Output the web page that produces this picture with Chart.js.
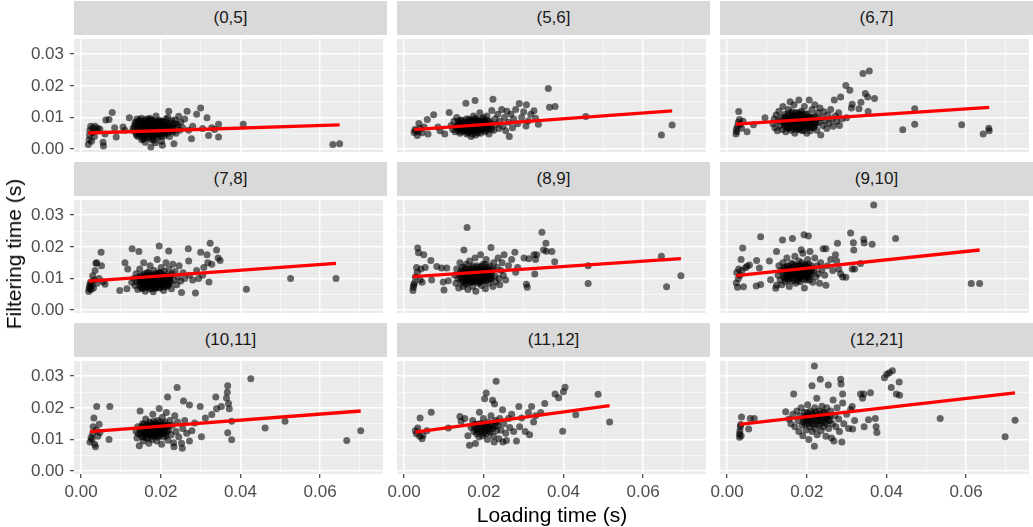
<!DOCTYPE html>
<html>
<head>
<meta charset="utf-8">
<script src="https://cdn.jsdelivr.net/npm/chart.js@4/dist/chart.umd.min.js"></script>
<style>
  body { margin: 0; background: #fff; font-family: 'Liberation Sans', Arial, sans-serif; }
  #wrap { position: relative; width: 1033px; height: 527px; overflow: hidden; }
  #wrap canvas { position: absolute; }
  .strip { position: absolute; background: #d9d9d9; color: #1a1a1a; font-size: 17px;
           display: flex; align-items: center; justify-content: center; }
  .title { position: absolute; font-size: 21px; color: #000; white-space: nowrap;
           transform: translate(-50%, -50%); }
</style>
</head>
<body>
<div id="wrap"></div>
<script>
// facet labels, in reading order
var panelLabels = ['(0,5]', '(5,6]', '(6,7]', '(7,8]', '(8,9]', '(9,10]', '(10,11]', '(11,12]', '(12,21]'];

// axis ticks (majors get labels, minors are grid only)
var xTicks = [0, 0.01, 0.02, 0.03, 0.04, 0.05, 0.06, 0.07];
var yTicks = [0, 0.005, 0.01, 0.015, 0.02, 0.025, 0.03];

// linear fit end points for each panel
var fitStartX = [0.0018, 0.0025, 0.0022, 0.0019, 0.0022, 0.0023, 0.0022, 0.0028, 0.0031];
var fitStartY = [0.0051, 0.0062, 0.0079, 0.0092, 0.0106, 0.0109, 0.0125, 0.0123, 0.0148];
var fitEndX   = [0.0649, 0.0673, 0.0658, 0.0640, 0.0695, 0.0634, 0.0702, 0.0516, 0.0723];
var fitEndY   = [0.0077, 0.0121, 0.0132, 0.0148, 0.0163, 0.0190, 0.0190, 0.0207, 0.0247];

// [loading time, filtering time] per panel
var pts0_5 = [[0.0018,0.0015],[0.0020,0.0030],[0.0021,0.0045],[0.0022,0.0060],[0.0024,0.0072],[0.0026,0.0025],[0.0028,0.0052],[0.0030,0.0068],[0.0033,0.0040],[0.0035,0.0072],[0.0038,0.0058],[0.0042,0.0066],[0.0047,0.0063],[0.0055,0.0022],[0.0056,0.0010],[0.0060,0.0048],[0.0062,0.0092],[0.0070,0.0094],[0.0078,0.0116],[0.0084,0.0068],[0.0088,0.0038],[0.0105,0.0070],[0.0121,0.0099],[0.0110,0.0060],
  [0.0130,0.0065],[0.0135,0.0080],[0.0138,0.0050],[0.0140,0.0095],[0.0143,0.0040],[0.0145,0.0070],[0.0148,0.0058],[0.0150,0.0085],[0.0152,0.0030],[0.0155,0.0065],[0.0157,0.0075],[0.0158,0.0048],[0.0160,0.0090],[0.0162,0.0060],[0.0164,0.0070],[0.0165,0.0040],[0.0167,0.0080],[0.0168,0.0055],[0.0170,0.0065],[0.0172,0.0098],[0.0173,0.0050],[0.0175,0.0007],[0.0175,0.0072],[0.0177,0.0030],[0.0178,0.0060],[0.0180,0.0085],[0.0182,0.0045],[0.0183,0.0068],[0.0185,0.0075],[0.0187,0.0055],[0.0188,0.0105],[0.0190,0.0062],[0.0192,0.0038],[0.0193,0.0080],[0.0195,0.0070],[0.0197,0.0050],[0.0198,0.0090],[0.0200,0.0060],[0.0202,0.0025],[0.0204,0.0012],[0.0205,0.0075],[0.0207,0.0048],[0.0210,0.0065],[0.0212,0.0085],[0.0215,0.0055],[0.0218,0.0100],[0.0220,0.0120],[0.0222,0.0040],[0.0225,0.0070],[0.0228,0.0090],[0.0230,0.0060],[0.0233,0.0017],[0.0235,0.0080],[0.0238,0.0050],[0.0240,0.0070],[0.0245,0.0104],[0.0248,0.0060],[0.0250,0.0085],[0.0255,0.0068],[0.0260,0.0095],[0.0266,0.0120],[0.0270,0.0060],[0.0277,0.0033],[0.0280,0.0072],[0.0290,0.0110],[0.0300,0.0130],[0.0305,0.0065],[0.0316,0.0099],[0.0320,0.0043],[0.0328,0.0068],[0.0335,0.0062],[0.0345,0.0079],[0.0345,0.0038],[0.0407,0.0079],[0.0632,0.0015],[0.0649,0.0017],
  [0.0153,0.0052],[0.0158,0.0068],[0.0163,0.0083],[0.0166,0.0047],[0.0171,0.0058],[0.0174,0.0088],[0.0179,0.0041],[0.0181,0.0066],[0.0186,0.0079],[0.0189,0.0049],[0.0194,0.0057],[0.0196,0.0085],[0.0201,0.0068],[0.0206,0.0058],[0.0209,0.0078],[0.0156,0.0036],[0.0169,0.0072],[0.0184,0.0061],[0.0191,0.0072],[0.0176,0.0052],
  [0.0141,0.0062],[0.0144,0.0088],[0.0147,0.0045],[0.0149,0.0073],[0.0151,0.0098],[0.0154,0.0058],[0.0156,0.0080],[0.0159,0.0042],[0.0161,0.0069],[0.0163,0.0095],[0.0165,0.0055],[0.0168,0.0084],[0.0170,0.0035],[0.0172,0.0068],[0.0174,0.0076],[0.0177,0.0092],[0.0179,0.0056],[0.0181,0.0074],[0.0183,0.0028],[0.0185,0.0064],[0.0188,0.0082],[0.0190,0.0046],[0.0192,0.0069],[0.0194,0.0090],[0.0197,0.0062],[0.0199,0.0077],[0.0201,0.0040],[0.0203,0.0088],[0.0205,0.0064],[0.0208,0.0052],[0.0211,0.0072],[0.0213,0.0095],[0.0216,0.0062],[0.0219,0.0080],[0.0222,0.0058],[0.0226,0.0082],[0.0229,0.0070],[0.0232,0.0055],[0.0236,0.0092],[0.0242,0.0078],
  [0.0132,0.0058],[0.0134,0.0072],[0.0137,0.0086],[0.0139,0.0044],[0.0142,0.0078],[0.0146,0.0052],[0.0148,0.0092],[0.0151,0.0064],[0.0154,0.0078],[0.0157,0.0032],[0.0159,0.0056],[0.0162,0.0074],[0.0164,0.0088],[0.0167,0.0062],[0.0169,0.0046],[0.0172,0.0080],[0.0175,0.0064],[0.0178,0.0038],[0.0180,0.0070],[0.0183,0.0090],[0.0186,0.0054],[0.0189,0.0066],[0.0191,0.0084],[0.0194,0.0044],[0.0197,0.0074],[0.0200,0.0052],[0.0203,0.0064],[0.0206,0.0086],[0.0209,0.0042],[0.0212,0.0068],[0.0215,0.0078],[0.0218,0.0050],[0.0221,0.0066],[0.0161,0.0022],[0.0187,0.0020],[0.0171,0.0094]];

var pts5_6 = [[0.0025,0.0053],[0.0027,0.0062],[0.0030,0.0058],[0.0033,0.0043],[0.0035,0.0055],[0.0037,0.0081],[0.0040,0.0065],[0.0045,0.0052],[0.0050,0.0070],[0.0058,0.0094],[0.0060,0.0048],[0.0074,0.0109],[0.0085,0.0070],[0.0090,0.0058],[0.0102,0.0048],[0.0113,0.0116],
  [0.0118,0.0075],[0.0122,0.0062],[0.0125,0.0088],[0.0128,0.0055],[0.0130,0.0070],[0.0132,0.0100],[0.0135,0.0060],[0.0138,0.0080],[0.0140,0.0050],[0.0142,0.0092],[0.0145,0.0068],[0.0147,0.0075],[0.0150,0.0058],[0.0152,0.0085],[0.0155,0.0145],[0.0155,0.0065],[0.0157,0.0048],[0.0160,0.0078],[0.0162,0.0095],[0.0164,0.0060],[0.0166,0.0070],[0.0168,0.0040],[0.0170,0.0085],[0.0172,0.0065],[0.0174,0.0105],[0.0176,0.0055],[0.0178,0.0154],[0.0178,0.0075],[0.0180,0.0045],[0.0182,0.0090],[0.0184,0.0068],[0.0186,0.0060],[0.0188,0.0080],[0.0190,0.0115],[0.0192,0.0050],[0.0194,0.0072],[0.0196,0.0095],[0.0198,0.0062],[0.0200,0.0085],[0.0203,0.0055],[0.0206,0.0075],[0.0208,0.0105],[0.0210,0.0065],[0.0213,0.0048],[0.0215,0.0088],[0.0218,0.0070],[0.0220,0.0122],[0.0223,0.0158],[0.0225,0.0060],[0.0228,0.0095],[0.0230,0.0078],[0.0235,0.0110],[0.0238,0.0065],[0.0240,0.0088],[0.0245,0.0125],[0.0248,0.0072],[0.0252,0.0100],[0.0255,0.0058],[0.0258,0.0120],[0.0262,0.0085],[0.0264,0.0040],[0.0268,0.0110],[0.0272,0.0068],[0.0275,0.0095],[0.0280,0.0125],[0.0285,0.0080],[0.0289,0.0144],[0.0295,0.0100],[0.0300,0.0118],[0.0306,0.0073],[0.0307,0.0140],[0.0312,0.0090],[0.0318,0.0110],[0.0326,0.0121],[0.0330,0.0098],[0.0337,0.0079],[0.0362,0.0192],[0.0365,0.0132],[0.0379,0.0135],[0.0456,0.0103],[0.0646,0.0045],[0.0673,0.0076],
  [0.0133,0.0072],[0.0136,0.0088],[0.0139,0.0064],[0.0141,0.0078],[0.0144,0.0055],[0.0146,0.0090],[0.0149,0.0068],[0.0151,0.0080],[0.0153,0.0060],[0.0156,0.0095],[0.0158,0.0072],[0.0161,0.0056],[0.0163,0.0085],[0.0165,0.0066],[0.0167,0.0078],[0.0169,0.0092],[0.0171,0.0058],[0.0173,0.0072],[0.0175,0.0084],[0.0177,0.0064],[0.0179,0.0098],[0.0181,0.0070],[0.0183,0.0080],[0.0185,0.0052],[0.0187,0.0088],[0.0189,0.0066],[0.0191,0.0076],[0.0193,0.0060],[0.0195,0.0086],[0.0197,0.0070],[0.0199,0.0100],[0.0201,0.0066],[0.0204,0.0080],[0.0207,0.0060],[0.0209,0.0090],[0.0212,0.0072],[0.0216,0.0082],[0.0219,0.0062],
  [0.0134,0.0066],[0.0137,0.0078],[0.0140,0.0070],[0.0143,0.0084],[0.0146,0.0062],[0.0149,0.0076],[0.0152,0.0070],[0.0155,0.0082],[0.0158,0.0062],[0.0161,0.0074],[0.0164,0.0090],[0.0167,0.0068],[0.0170,0.0076],[0.0173,0.0058],[0.0176,0.0088],[0.0179,0.0072],[0.0182,0.0064],[0.0185,0.0078],[0.0188,0.0070],[0.0191,0.0086],[0.0194,0.0064],[0.0197,0.0078],[0.0200,0.0072],[0.0203,0.0090],[0.0206,0.0068],[0.0209,0.0078],[0.0172,0.0048],[0.0160,0.0052],[0.0184,0.0094]];

var pts6_7 = [[0.0022,0.0048],[0.0023,0.0063],[0.0024,0.0055],[0.0026,0.0072],[0.0028,0.0085],[0.0029,0.0119],[0.0031,0.0094],[0.0033,0.0078],[0.0036,0.0066],[0.0040,0.0088],[0.0050,0.0055],[0.0066,0.0077],[0.0095,0.0099],
  [0.0115,0.0080],[0.0118,0.0095],[0.0120,0.0068],[0.0123,0.0108],[0.0126,0.0058],[0.0128,0.0088],[0.0130,0.0120],[0.0133,0.0075],[0.0135,0.0100],[0.0138,0.0062],[0.0140,0.0135],[0.0142,0.0085],[0.0145,0.0110],[0.0147,0.0055],[0.0150,0.0095],[0.0152,0.0070],[0.0154,0.0125],[0.0156,0.0082],[0.0158,0.0150],[0.0160,0.0060],[0.0162,0.0105],[0.0164,0.0090],[0.0166,0.0075],[0.0168,0.0140],[0.0170,0.0050],[0.0172,0.0115],[0.0174,0.0085],[0.0176,0.0100],[0.0178,0.0065],[0.0180,0.0155],[0.0182,0.0092],[0.0184,0.0078],[0.0186,0.0120],[0.0188,0.0058],[0.0190,0.0105],[0.0192,0.0088],[0.0194,0.0135],[0.0196,0.0070],[0.0198,0.0098],[0.0200,0.0050],[0.0202,0.0112],[0.0204,0.0082],[0.0206,0.0155],[0.0208,0.0093],[0.0210,0.0068],[0.0213,0.0125],[0.0215,0.0100],[0.0218,0.0078],[0.0220,0.0140],[0.0222,0.0090],[0.0225,0.0060],[0.0228,0.0115],[0.0230,0.0085],[0.0233,0.0130],[0.0235,0.0045],[0.0238,0.0100],[0.0240,0.0075],[0.0243,0.0118],[0.0246,0.0090],[0.0250,0.0065],[0.0253,0.0108],[0.0256,0.0082],[0.0260,0.0125],[0.0263,0.0095],[0.0266,0.0072],[0.0269,0.0155],[0.0272,0.0105],[0.0275,0.0088],[0.0280,0.0115],[0.0282,0.0075],[0.0285,0.0165],[0.0288,0.0095],[0.0298,0.0201],[0.0300,0.0099],[0.0308,0.0186],[0.0312,0.0130],[0.0314,0.0142],[0.0331,0.0128],[0.0336,0.0148],[0.0341,0.0239],[0.0347,0.0176],[0.0353,0.0165],[0.0354,0.0119],[0.0357,0.0247],[0.0370,0.0160],[0.0441,0.0061],[0.0471,0.0128],[0.0471,0.0079],[0.0589,0.0077],[0.0643,0.0048],[0.0657,0.0066],[0.0658,0.0058],
  [0.0141,0.0095],[0.0144,0.0075],[0.0146,0.0102],[0.0149,0.0085],[0.0151,0.0065],[0.0153,0.0112],[0.0155,0.0092],[0.0157,0.0072],[0.0159,0.0100],[0.0161,0.0082],[0.0163,0.0118],[0.0165,0.0065],[0.0167,0.0095],[0.0169,0.0080],[0.0171,0.0105],[0.0173,0.0070],[0.0175,0.0090],[0.0177,0.0115],[0.0179,0.0078],[0.0181,0.0098],[0.0183,0.0062],[0.0185,0.0088],[0.0187,0.0108],[0.0189,0.0075],[0.0191,0.0095],[0.0193,0.0060],[0.0195,0.0085],[0.0197,0.0110],[0.0199,0.0078],[0.0201,0.0092],[0.0203,0.0070],[0.0205,0.0102],[0.0207,0.0082],[0.0209,0.0058],[0.0211,0.0098],[0.0214,0.0085],[0.0217,0.0068],[0.0219,0.0105],[0.0223,0.0080],[0.0227,0.0095],
  [0.0143,0.0088],[0.0146,0.0078],[0.0149,0.0098],[0.0152,0.0082],[0.0155,0.0068],[0.0158,0.0092],[0.0161,0.0078],[0.0164,0.0104],[0.0167,0.0086],[0.0170,0.0072],[0.0173,0.0096],[0.0176,0.0082],[0.0179,0.0108],[0.0182,0.0068],[0.0185,0.0094],[0.0188,0.0082],[0.0191,0.0100],[0.0194,0.0075],[0.0197,0.0090],[0.0200,0.0082],[0.0203,0.0098],[0.0206,0.0072],[0.0209,0.0088],[0.0212,0.0080],[0.0215,0.0092],[0.0218,0.0072],[0.0174,0.0062],[0.0188,0.0114],[0.0160,0.0112]];

var pts7_8 = [[0.0019,0.0059],[0.0020,0.0068],[0.0021,0.0074],[0.0022,0.0082],[0.0024,0.0089],[0.0025,0.0065],[0.0027,0.0078],[0.0029,0.0109],[0.0031,0.0070],[0.0033,0.0095],[0.0035,0.0125],[0.0037,0.0148],[0.0039,0.0150],[0.0040,0.0085],[0.0045,0.0100],[0.0050,0.0183],[0.0051,0.0140],[0.0055,0.0090],[0.0060,0.0082],
  [0.0097,0.0062],[0.0110,0.0150],[0.0117,0.0130],[0.0115,0.0068],[0.0128,0.0194],[0.0127,0.0088],[0.0145,0.0185],
  [0.0132,0.0100],[0.0135,0.0078],[0.0138,0.0115],[0.0140,0.0090],[0.0142,0.0065],[0.0145,0.0105],[0.0147,0.0130],[0.0149,0.0082],[0.0151,0.0095],[0.0153,0.0070],[0.0155,0.0112],[0.0157,0.0150],[0.0159,0.0088],[0.0161,0.0060],[0.0163,0.0102],[0.0165,0.0078],[0.0167,0.0120],[0.0169,0.0092],[0.0171,0.0068],[0.0173,0.0140],[0.0175,0.0098],[0.0177,0.0084],[0.0179,0.0110],[0.0181,0.0058],[0.0183,0.0125],[0.0185,0.0090],[0.0187,0.0075],[0.0189,0.0105],[0.0191,0.0160],[0.0193,0.0085],[0.0195,0.0118],[0.0196,0.0203],[0.0197,0.0070],[0.0199,0.0096],[0.0201,0.0135],[0.0203,0.0080],[0.0205,0.0108],[0.0207,0.0062],[0.0209,0.0122],[0.0211,0.0090],[0.0213,0.0150],[0.0215,0.0075],[0.0217,0.0100],[0.0220,0.0187],[0.0220,0.0130],[0.0222,0.0085],[0.0225,0.0110],[0.0227,0.0068],[0.0230,0.0145],[0.0233,0.0095],[0.0236,0.0122],[0.0240,0.0080],[0.0243,0.0105],[0.0246,0.0140],[0.0250,0.0092],[0.0252,0.0056],[0.0256,0.0118],[0.0260,0.0100],
  [0.0269,0.0194],[0.0270,0.0155],[0.0272,0.0110],[0.0280,0.0095],[0.0287,0.0054],[0.0290,0.0125],[0.0295,0.0100],[0.0300,0.0183],[0.0305,0.0110],[0.0308,0.0135],[0.0316,0.0175],[0.0318,0.0150],[0.0321,0.0089],[0.0324,0.0211],[0.0328,0.0145],[0.0340,0.0190],[0.0344,0.0165],[0.0349,0.0157],[0.0415,0.0066],[0.0526,0.0100],[0.0640,0.0100],
  [0.0146,0.0092],[0.0148,0.0075],[0.0150,0.0108],[0.0152,0.0085],[0.0154,0.0068],[0.0156,0.0100],[0.0158,0.0080],[0.0160,0.0115],[0.0162,0.0090],[0.0164,0.0072],[0.0166,0.0105],[0.0168,0.0085],[0.0170,0.0118],[0.0172,0.0095],[0.0174,0.0078],[0.0176,0.0108],[0.0178,0.0068],[0.0180,0.0092],[0.0182,0.0102],[0.0184,0.0082],[0.0186,0.0115],[0.0188,0.0070],[0.0190,0.0095],[0.0192,0.0108],[0.0194,0.0080],[0.0196,0.0098],[0.0198,0.0118],[0.0200,0.0072],[0.0202,0.0090],[0.0204,0.0102],[0.0206,0.0082],[0.0208,0.0112],[0.0210,0.0075],[0.0212,0.0098],[0.0214,0.0088],[0.0216,0.0108],[0.0219,0.0078],[0.0222,0.0100],[0.0225,0.0090],[0.0228,0.0115],
  [0.0150,0.0092],[0.0153,0.0100],[0.0156,0.0086],[0.0159,0.0104],[0.0162,0.0080],[0.0165,0.0095],[0.0168,0.0110],[0.0171,0.0086],[0.0174,0.0102],[0.0177,0.0092],[0.0180,0.0078],[0.0183,0.0100],[0.0186,0.0090],[0.0189,0.0112],[0.0192,0.0082],[0.0195,0.0098],[0.0198,0.0088],[0.0201,0.0104],[0.0204,0.0078],[0.0207,0.0095],[0.0210,0.0088],[0.0213,0.0102],[0.0216,0.0082],[0.0219,0.0094],[0.0222,0.0105],[0.0185,0.0070],[0.0170,0.0075],[0.0200,0.0115]];

var pts8_9 = [[0.0022,0.0062],[0.0023,0.0072],[0.0024,0.0080],[0.0026,0.0086],[0.0028,0.0105],[0.0031,0.0135],[0.0033,0.0120],[0.0034,0.0196],[0.0036,0.0181],[0.0040,0.0095],[0.0042,0.0130],[0.0045,0.0088],[0.0049,0.0175],[0.0053,0.0135],[0.0067,0.0157],[0.0069,0.0095],[0.0082,0.0138],[0.0094,0.0133],[0.0098,0.0089],[0.0100,0.0064],[0.0107,0.0133],[0.0111,0.0093],
  [0.0127,0.0110],[0.0130,0.0085],[0.0132,0.0130],[0.0135,0.0100],[0.0137,0.0070],[0.0140,0.0150],[0.0142,0.0115],[0.0144,0.0090],[0.0146,0.0135],[0.0148,0.0075],[0.0150,0.0190],[0.0150,0.0105],[0.0152,0.0125],[0.0154,0.0082],[0.0156,0.0145],[0.0158,0.0261],[0.0158,0.0098],[0.0160,0.0065],[0.0162,0.0118],[0.0164,0.0155],[0.0166,0.0088],[0.0168,0.0108],[0.0170,0.0135],[0.0172,0.0075],[0.0174,0.0120],[0.0176,0.0095],[0.0178,0.0165],[0.0180,0.0060],[0.0182,0.0110],[0.0184,0.0140],[0.0186,0.0085],[0.0188,0.0125],[0.0190,0.0100],[0.0192,0.0175],[0.0194,0.0078],[0.0196,0.0115],[0.0198,0.0145],[0.0200,0.0092],[0.0202,0.0130],[0.0204,0.0068],[0.0206,0.0160],[0.0208,0.0105],[0.0210,0.0120],[0.0212,0.0085],[0.0215,0.0140],[0.0218,0.0198],[0.0218,0.0098],[0.0220,0.0125],[0.0223,0.0075],[0.0225,0.0150],[0.0228,0.0108],[0.0230,0.0090],[0.0233,0.0135],[0.0236,0.0165],[0.0238,0.0100],[0.0240,0.0080],[0.0243,0.0125],[0.0246,0.0150],[0.0249,0.0110],[0.0251,0.0175],[0.0255,0.0095],
  [0.0262,0.0140],[0.0270,0.0160],[0.0278,0.0183],[0.0280,0.0120],[0.0285,0.0135],[0.0301,0.0165],[0.0307,0.0082],[0.0309,0.0072],[0.0313,0.0162],[0.0326,0.0175],[0.0328,0.0114],[0.0330,0.0160],[0.0333,0.0175],[0.0346,0.0246],[0.0350,0.0190],[0.0356,0.0211],[0.0357,0.0186],[0.0371,0.0185],[0.0378,0.0153],[0.0462,0.0140],[0.0462,0.0084],[0.0646,0.0170],[0.0659,0.0074],[0.0695,0.0109],
  [0.0141,0.0105],[0.0143,0.0125],[0.0145,0.0098],[0.0147,0.0118],[0.0149,0.0088],[0.0151,0.0112],[0.0153,0.0135],[0.0155,0.0095],[0.0157,0.0120],[0.0159,0.0085],[0.0161,0.0108],[0.0163,0.0130],[0.0165,0.0100],[0.0167,0.0122],[0.0169,0.0090],[0.0171,0.0112],[0.0173,0.0140],[0.0175,0.0105],[0.0177,0.0128],[0.0179,0.0092],[0.0181,0.0118],[0.0183,0.0100],[0.0185,0.0135],[0.0187,0.0110],[0.0189,0.0088],[0.0191,0.0125],[0.0193,0.0105],[0.0195,0.0138],[0.0197,0.0098],[0.0199,0.0118],[0.0201,0.0108],[0.0203,0.0145],[0.0205,0.0092],[0.0207,0.0125],[0.0209,0.0110],[0.0211,0.0135],[0.0214,0.0098],[0.0217,0.0118],[0.0220,0.0108],[0.0224,0.0130],
  [0.0150,0.0112],[0.0153,0.0100],[0.0156,0.0120],[0.0159,0.0108],[0.0162,0.0095],[0.0165,0.0115],[0.0168,0.0128],[0.0171,0.0100],[0.0174,0.0112],[0.0177,0.0120],[0.0180,0.0098],[0.0183,0.0125],[0.0186,0.0110],[0.0189,0.0130],[0.0192,0.0102],[0.0195,0.0112],[0.0198,0.0125],[0.0201,0.0098],[0.0204,0.0118],[0.0207,0.0108],[0.0210,0.0128],[0.0213,0.0112],[0.0216,0.0100],[0.0175,0.0090],[0.0190,0.0092]];

var pts9_10 = [[0.0023,0.0086],[0.0024,0.0119],[0.0026,0.0072],[0.0028,0.0100],[0.0029,0.0130],[0.0032,0.0110],[0.0035,0.0160],[0.0037,0.0125],[0.0039,0.0196],[0.0041,0.0074],[0.0046,0.0134],[0.0050,0.0139],[0.0056,0.0143],[0.0073,0.0076],[0.0074,0.0157],[0.0081,0.0133],[0.0084,0.0232],[0.0084,0.0081],[0.0106,0.0155],[0.0109,0.0096],[0.0122,0.0069],[0.0124,0.0185],[0.0124,0.0079],[0.0139,0.0222],[0.0164,0.0226],[0.0193,0.0238],[0.0204,0.0234],[0.0186,0.0191],
  [0.0128,0.0110],[0.0130,0.0140],[0.0133,0.0095],[0.0135,0.0125],[0.0137,0.0080],[0.0140,0.0150],[0.0142,0.0105],[0.0144,0.0130],[0.0146,0.0090],[0.0148,0.0118],[0.0150,0.0165],[0.0152,0.0100],[0.0154,0.0138],[0.0156,0.0075],[0.0158,0.0122],[0.0160,0.0108],[0.0162,0.0148],[0.0164,0.0092],[0.0166,0.0130],[0.0168,0.0115],[0.0170,0.0170],[0.0172,0.0085],[0.0174,0.0125],[0.0176,0.0140],[0.0178,0.0100],[0.0180,0.0155],[0.0182,0.0118],[0.0184,0.0090],[0.0186,0.0135],[0.0188,0.0108],[0.0190,0.0180],[0.0192,0.0125],[0.0194,0.0070],[0.0196,0.0145],[0.0198,0.0112],[0.0200,0.0095],[0.0202,0.0160],[0.0204,0.0130],[0.0206,0.0105],[0.0208,0.0185],[0.0210,0.0120],[0.0212,0.0140],[0.0215,0.0088],[0.0218,0.0125],[0.0220,0.0165],[0.0223,0.0105],[0.0226,0.0140],[0.0229,0.0115],[0.0232,0.0085],[0.0235,0.0150],[0.0238,0.0128],
  [0.0241,0.0194],[0.0245,0.0110],[0.0248,0.0194],[0.0248,0.0079],[0.0252,0.0140],[0.0260,0.0160],[0.0265,0.0125],[0.0272,0.0175],[0.0275,0.0155],[0.0277,0.0211],[0.0280,0.0130],[0.0285,0.0115],[0.0290,0.0105],[0.0298,0.0104],[0.0310,0.0244],[0.0317,0.0213],[0.0318,0.0190],[0.0314,0.0130],[0.0320,0.0130],[0.0335,0.0147],[0.0343,0.0224],[0.0344,0.0212],[0.0364,0.0208],[0.0368,0.0332],[0.0423,0.0226],[0.0613,0.0084],[0.0634,0.0084],
  [0.0141,0.0115],[0.0143,0.0135],[0.0145,0.0100],[0.0147,0.0125],[0.0149,0.0108],[0.0151,0.0140],[0.0153,0.0095],[0.0155,0.0118],[0.0157,0.0132],[0.0159,0.0102],[0.0161,0.0125],[0.0163,0.0112],[0.0165,0.0145],[0.0167,0.0098],[0.0169,0.0122],[0.0171,0.0135],[0.0173,0.0108],[0.0175,0.0128],[0.0177,0.0092],[0.0179,0.0118],[0.0181,0.0140],[0.0183,0.0105],[0.0185,0.0125],[0.0187,0.0150],[0.0189,0.0112],[0.0191,0.0132],[0.0193,0.0098],[0.0195,0.0120],[0.0197,0.0140],[0.0199,0.0105],[0.0201,0.0125],[0.0203,0.0115],[0.0205,0.0145],[0.0207,0.0095],[0.0209,0.0132],[0.0211,0.0112],[0.0213,0.0125],
  [0.0152,0.0118],[0.0155,0.0128],[0.0158,0.0112],[0.0161,0.0135],[0.0164,0.0120],[0.0167,0.0108],[0.0170,0.0128],[0.0173,0.0118],[0.0176,0.0132],[0.0179,0.0110],[0.0182,0.0125],[0.0185,0.0140],[0.0188,0.0118],[0.0191,0.0108],[0.0194,0.0130],[0.0197,0.0120],[0.0200,0.0138],[0.0203,0.0112],[0.0206,0.0125],[0.0180,0.0100],[0.0170,0.0140]];

var pts10_11 = [[0.0022,0.0092],[0.0025,0.0106],[0.0027,0.0100],[0.0029,0.0119],[0.0030,0.0140],[0.0032,0.0168],[0.0034,0.0085],[0.0036,0.0077],[0.0038,0.0130],[0.0039,0.0204],[0.0042,0.0110],[0.0045,0.0148],[0.0047,0.0122],[0.0070,0.0100],[0.0072,0.0204],
  [0.0138,0.0125],[0.0140,0.0105],[0.0142,0.0140],[0.0144,0.0118],[0.0146,0.0080],[0.0148,0.0190],[0.0150,0.0130],[0.0152,0.0110],[0.0154,0.0150],[0.0156,0.0095],[0.0158,0.0135],[0.0160,0.0120],[0.0162,0.0165],[0.0164,0.0105],[0.0166,0.0145],[0.0168,0.0125],[0.0170,0.0088],[0.0172,0.0155],[0.0174,0.0115],[0.0176,0.0135],[0.0178,0.0100],[0.0180,0.0180],[0.0182,0.0128],[0.0184,0.0110],[0.0186,0.0148],[0.0188,0.0120],[0.0190,0.0095],[0.0192,0.0160],[0.0194,0.0135],[0.0196,0.0198],[0.0196,0.0112],[0.0198,0.0145],[0.0200,0.0125],[0.0202,0.0085],[0.0204,0.0170],[0.0206,0.0130],[0.0208,0.0108],[0.0210,0.0155],[0.0212,0.0120],[0.0214,0.0185],[0.0216,0.0140],[0.0217,0.0234],[0.0218,0.0098],[0.0220,0.0130],[0.0223,0.0160],[0.0226,0.0115],[0.0229,0.0145],[0.0232,0.0090],[0.0233,0.0077],[0.0235,0.0175],[0.0238,0.0125],[0.0241,0.0264],[0.0242,0.0155],[0.0245,0.0108],
  [0.0252,0.0088],[0.0254,0.0072],[0.0255,0.0135],[0.0257,0.0222],[0.0260,0.0160],[0.0265,0.0120],[0.0272,0.0209],[0.0272,0.0095],[0.0278,0.0128],[0.0285,0.0152],[0.0299,0.0204],[0.0302,0.0109],[0.0312,0.0168],[0.0328,0.0179],[0.0338,0.0234],[0.0340,0.0197],[0.0352,0.0204],[0.0365,0.0231],[0.0367,0.0249],[0.0368,0.0270],[0.0370,0.0214],[0.0372,0.0197],[0.0368,0.0121],[0.0378,0.0099],[0.0378,0.0158],[0.0426,0.0292],[0.0462,0.0136],[0.0512,0.0158],[0.0667,0.0097],[0.0702,0.0128],
  [0.0150,0.0118],[0.0152,0.0140],[0.0154,0.0125],[0.0156,0.0108],[0.0158,0.0148],[0.0160,0.0130],[0.0162,0.0115],[0.0164,0.0140],[0.0166,0.0122],[0.0168,0.0105],[0.0170,0.0135],[0.0172,0.0118],[0.0174,0.0150],[0.0176,0.0125],[0.0178,0.0110],[0.0180,0.0140],[0.0182,0.0158],[0.0184,0.0128],[0.0186,0.0115],[0.0188,0.0138],[0.0190,0.0125],[0.0192,0.0145],[0.0194,0.0108],[0.0196,0.0130],[0.0198,0.0155],[0.0200,0.0118],[0.0202,0.0140],[0.0204,0.0128],[0.0206,0.0150],[0.0208,0.0120],[0.0210,0.0135],[0.0213,0.0112],[0.0216,0.0128],[0.0219,0.0145],
  [0.0160,0.0125],[0.0163,0.0135],[0.0166,0.0118],[0.0169,0.0130],[0.0172,0.0140],[0.0175,0.0120],[0.0178,0.0132],[0.0181,0.0145],[0.0184,0.0122],[0.0187,0.0132],[0.0190,0.0115],[0.0193,0.0128],[0.0196,0.0140],[0.0199,0.0130],[0.0202,0.0122],[0.0205,0.0135],[0.0208,0.0145],[0.0185,0.0150],[0.0195,0.0118]];

var pts11_12 = [[0.0028,0.0128],[0.0031,0.0118],[0.0034,0.0136],[0.0039,0.0110],[0.0040,0.0168],[0.0045,0.0102],[0.0047,0.0113],[0.0057,0.0128],[0.0068,0.0186],[0.0111,0.0136],[0.0140,0.0173],[0.0143,0.0158],[0.0152,0.0166],[0.0160,0.0112],[0.0164,0.0082],[0.0168,0.0138],[0.0172,0.0160],[0.0175,0.0125],[0.0178,0.0148],[0.0179,0.0087],[0.0182,0.0118],[0.0185,0.0135],[0.0188,0.0108],[0.0189,0.0186],[0.0191,0.0150],[0.0193,0.0125],[0.0195,0.0140],[0.0197,0.0112],[0.0199,0.0166],[0.0202,0.0229],[0.0202,0.0130],[0.0204,0.0145],[0.0206,0.0247],[0.0206,0.0118],[0.0209,0.0100],[0.0211,0.0155],[0.0213,0.0135],[0.0216,0.0122],[0.0218,0.0175],[0.0220,0.0142],[0.0222,0.0224],[0.0224,0.0110],[0.0226,0.0092],[0.0227,0.0212],[0.0229,0.0160],[0.0231,0.0284],[0.0232,0.0128],[0.0235,0.0145],[0.0238,0.0102],[0.0240,0.0166],[0.0243,0.0130],[0.0247,0.0194],[0.0248,0.0092],[0.0250,0.0150],[0.0255,0.0120],[0.0257,0.0097],[0.0262,0.0166],[0.0265,0.0138],[0.0270,0.0180],[0.0275,0.0125],[0.0282,0.0095],[0.0288,0.0204],[0.0290,0.0140],[0.0295,0.0168],[0.0304,0.0125],[0.0312,0.0185],[0.0315,0.0115],[0.0320,0.0204],[0.0325,0.0155],[0.0330,0.0175],[0.0343,0.0185],[0.0353,0.0214],[0.0379,0.0244],[0.0388,0.0232],[0.0398,0.0126],[0.0400,0.0251],[0.0404,0.0265],[0.0431,0.0178],[0.0487,0.0243],[0.0516,0.0155],
  [0.0176,0.0140],[0.0181,0.0130],[0.0184,0.0148],[0.0187,0.0125],[0.0192,0.0135],[0.0196,0.0150],[0.0200,0.0120],[0.0203,0.0140],[0.0207,0.0132],[0.0210,0.0145],[0.0214,0.0128],[0.0219,0.0150],[0.0223,0.0135],[0.0228,0.0142],[0.0233,0.0155]];

var pts12_21 = [[0.0031,0.0107],[0.0031,0.0117],[0.0032,0.0127],[0.0033,0.0140],[0.0034,0.0147],[0.0036,0.0171],[0.0035,0.0112],[0.0054,0.0133],[0.0058,0.0166],[0.0068,0.0166],
  [0.0147,0.0188],[0.0155,0.0165],[0.0160,0.0150],[0.0165,0.0180],[0.0167,0.0244],[0.0170,0.0140],[0.0175,0.0190],[0.0178,0.0160],[0.0180,0.0125],[0.0183,0.0175],[0.0186,0.0200],[0.0188,0.0145],[0.0190,0.0112],[0.0192,0.0165],[0.0194,0.0185],[0.0196,0.0150],[0.0198,0.0130],[0.0200,0.0175],[0.0202,0.0210],[0.0203,0.0160],[0.0205,0.0100],[0.0207,0.0140],[0.0209,0.0190],[0.0211,0.0168],[0.0213,0.0270],[0.0213,0.0125],[0.0215,0.0150],[0.0217,0.0180],[0.0219,0.0332],[0.0219,0.0079],[0.0220,0.0200],[0.0221,0.0135],[0.0223,0.0160],[0.0225,0.0230],[0.0226,0.0115],[0.0228,0.0175],[0.0230,0.0145],[0.0232,0.0190],[0.0234,0.0290],[0.0234,0.0160],[0.0236,0.0128],[0.0238,0.0205],[0.0240,0.0170],[0.0242,0.0140],[0.0244,0.0185],[0.0246,0.0155],[0.0248,0.0110],[0.0250,0.0200],[0.0252,0.0170],[0.0254,0.0272],[0.0255,0.0135],[0.0258,0.0160],[0.0260,0.0190],[0.0262,0.0105],[0.0264,0.0150],[0.0266,0.0225],[0.0268,0.0095],[0.0270,0.0175],[0.0273,0.0140],[0.0276,0.0200],[0.0280,0.0165],[0.0282,0.0125],[0.0285,0.0290],[0.0286,0.0275],[0.0288,0.0092],[0.0290,0.0244],[0.0290,0.0215],[0.0293,0.0150],[0.0300,0.0180],[0.0305,0.0135],[0.0310,0.0195],[0.0314,0.0204],[0.0315,0.0133],[0.0320,0.0160],[0.0335,0.0244],[0.0340,0.0230],[0.0343,0.0244],[0.0344,0.0140],[0.0355,0.0162],[0.0360,0.0248],[0.0372,0.0166],[0.0374,0.0140],[0.0376,0.0122],[0.0395,0.0295],[0.0401,0.0306],[0.0407,0.0311],[0.0412,0.0264],[0.0415,0.0317],[0.0425,0.0244],[0.0432,0.0282],[0.0433,0.0240],[0.0535,0.0166],[0.0698,0.0109],[0.0723,0.0161],
  [0.0192,0.0155],[0.0195,0.0172],[0.0198,0.0160],[0.0201,0.0185],[0.0204,0.0150],[0.0206,0.0170],[0.0209,0.0158],[0.0212,0.0182],[0.0215,0.0165],[0.0218,0.0148],[0.0220,0.0175],[0.0223,0.0188],[0.0225,0.0158],[0.0228,0.0168],[0.0231,0.0180],[0.0233,0.0150],[0.0236,0.0172],[0.0239,0.0160],[0.0242,0.0185],[0.0245,0.0168],[0.0248,0.0150],[0.0251,0.0178],[0.0254,0.0162],[0.0258,0.0175]];

var panelPoints = [pts0_5, pts5_6, pts6_7, pts7_8, pts8_9, pts9_10, pts10_11, pts11_12, pts12_21];

var X_MIN = -0.0018, X_MAX = 0.0758;
var Y_MIN = -0.0009, Y_MAX = 0.0348;

// page layout (px)
var colLeft = [74, 397, 720];
var rowTop = [1, 162, 323];
var PANEL_W = 313, STRIP_H = 34, PANEL_H = 117;
var Y_AXIS_W = 74, BOTTOM_AXIS_H = 53;

Chart.defaults.font.family = "'Liberation Sans', Arial, sans-serif";

var panelBg = {
    id: 'panelBg',
    beforeDraw: function (chart) {
        var a = chart.chartArea;
        var ctx = chart.ctx;
        ctx.save();
        ctx.fillStyle = '#ebebeb';
        ctx.fillRect(a.left, a.top, a.right - a.left, a.bottom - a.top);
        ctx.restore();
    }
};

function isMajor(v, stepThousandths) {
    return Math.round(v * 1000) % stepThousandths === 0;
}

function gridOpts(step, showTicks) {
    return {
        color: '#ffffff',
        lineWidth: function (c) { return c.tick && isMajor(c.tick.value, step) ? 1.4 : 0.6; },
        drawTicks: showTicks,
        tickLength: 4,
        tickWidth: 1.1,
        tickColor: function (c) { return c.tick && isMajor(c.tick.value, step) ? '#333333' : 'rgba(0,0,0,0)'; }
    };
}

var wrap = document.getElementById('wrap');

function addText(cls, text, css) {
    var d = document.createElement('div');
    d.className = cls;
    d.textContent = text;
    Object.keys(css).forEach(function (k) { d.style[k] = css[k]; });
    wrap.appendChild(d);
    return d;
}

panelLabels.forEach(function (label, i) {
    var r = Math.floor(i / 3), c = i % 3;
    var leftCol = c === 0, bottomRow = r === 2;

    addText('strip', label, {
        left: colLeft[c] + 'px', top: rowTop[r] + 'px',
        width: PANEL_W + 'px', height: STRIP_H + 'px'
    });

    var yw = leftCol ? Y_AXIS_W : 20;
    var xh = bottomRow ? BOTTOM_AXIS_H : 8;
    var w = PANEL_W + yw, h = PANEL_H + xh;

    var canvas = document.createElement('canvas');
    canvas.width = w; canvas.height = h;
    canvas.style.width = w + 'px'; canvas.style.height = h + 'px';
    canvas.style.left = (colLeft[c] - yw) + 'px';
    canvas.style.top = (rowTop[r] + STRIP_H) + 'px';
    wrap.appendChild(canvas);

    var pts = panelPoints[i];

    new Chart(canvas, {
        type: 'scatter',
        data: {
            datasets: [
                {
                    data: [{ x: fitStartX[i], y: fitStartY[i] }, { x: fitEndX[i], y: fitEndY[i] }],
                    showLine: true,
                    borderColor: '#ff0000',
                    borderWidth: 3.3,
                    pointRadius: 0
                },
                {
                    data: pts.map(function (p) { return { x: p[0], y: p[1] }; }),
                    backgroundColor: 'rgba(0,0,0,0.58)',
                    borderWidth: 0,
                    pointRadius: 3.5
                }
            ]
        },
        options: {
            responsive: false,
            animation: false,
            events: [],
            layout: { padding: 0 },
            plugins: { legend: { display: false }, tooltip: { enabled: false } },
            scales: {
                x: {
                    type: 'linear',
                    min: X_MIN, max: X_MAX,
                    afterBuildTicks: function (s) { s.ticks = xTicks.map(function (v) { return { value: v }; }); },
                    afterFit: function (s) { s.height = xh; s.paddingLeft = 0; s.paddingRight = 0; },
                    border: { display: false },
                    grid: gridOpts(20, bottomRow),
                    ticks: {
                        display: bottomRow,
                        autoSkip: false,
                        maxRotation: 0,
                        padding: 4,
                        color: '#4d4d4d',
                        font: { size: 17 },
                        callback: function (v) { return isMajor(v, 20) ? v.toFixed(2) : ''; }
                    }
                },
                y: {
                    type: 'linear',
                    min: Y_MIN, max: Y_MAX,
                    afterBuildTicks: function (s) { s.ticks = yTicks.map(function (v) { return { value: v }; }); },
                    afterFit: function (s) { s.width = yw; s.paddingTop = 0; s.paddingBottom = 0; },
                    border: { display: false },
                    grid: gridOpts(10, leftCol),
                    ticks: {
                        display: leftCol,
                        autoSkip: false,
                        padding: 6,
                        color: '#4d4d4d',
                        font: { size: 17 },
                        callback: function (v) { return isMajor(v, 10) ? v.toFixed(2) : ''; }
                    }
                }
            }
        },
        plugins: [panelBg]
    });
});

addText('title', 'Loading time (s)', { left: '552px', top: '515px' });
addText('title', 'Filtering time (s)', {
    left: '14px', top: '254px',
    transform: 'translate(-50%, -50%) rotate(-90deg)'
});
</script>
</body>
</html>
